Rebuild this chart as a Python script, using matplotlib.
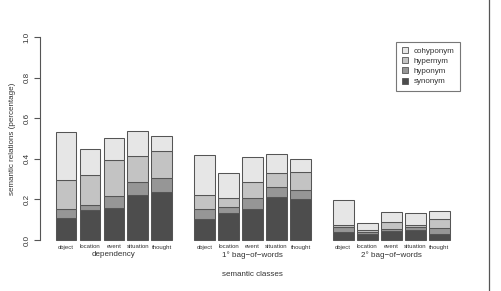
import matplotlib
matplotlib.use('Agg')
import matplotlib.pyplot as plt
from matplotlib.lines import Line2D
import numpy as np

plt.rcParams['font.family'] = ['Liberation Sans', 'DejaVu Sans']

groups = ['dependency', '1° bag\u2212of\u2212words', '2° bag\u2212of\u2212words']
classes = ['object', 'location', 'event', 'situation', 'thought']
relations = ['synonym', 'hyponym', 'hypernym', 'cohyponym']
colors = ['#4D4D4D', '#969696', '#C3C3C3', '#E6E6E6']

# cumulative tops for each relation (synonym, +hyponym, +hypernym, +cohyponym)
synonym_top = [0.107, 0.146, 0.156, 0.222, 0.235,
               0.104, 0.133, 0.151, 0.211, 0.203,
               0.041, 0.028, 0.046, 0.048, 0.031]
hyponym_top = [0.151, 0.171, 0.218, 0.287, 0.304,
               0.152, 0.161, 0.206, 0.263, 0.247,
               0.063, 0.039, 0.056, 0.064, 0.059]
hypernym_top = [0.298, 0.319, 0.393, 0.412, 0.440,
                0.220, 0.209, 0.288, 0.328, 0.335,
                0.076, 0.049, 0.087, 0.076, 0.102]
cohyponym_top = [0.531, 0.448, 0.504, 0.535, 0.512,
                 0.418, 0.330, 0.409, 0.422, 0.399,
                 0.196, 0.082, 0.136, 0.131, 0.145]

W, H = 501, 291
fig = plt.figure(figsize=(W / 100, H / 100), dpi=100)
fig.patch.set_facecolor('white')

# axes: y=0 at px 240, y=1 at px 37; x from px 40 to 489
ax = fig.add_axes([40 / W, (H - 240) / H, (489 - 40) / W, (240 - 37) / H])
px = 22.0  # pixels per bar width
ax.set_xlim(-26 / px, (489 - 66) / px)
ax.set_ylim(0, 1)

x = np.array([6.3 * g + 1.09 * i for g in range(3) for i in range(5)])
tops = [synonym_top, hyponym_top, hypernym_top, cohyponym_top]
bottom = np.zeros(len(x))
for rel, col, top in zip(relations, colors, tops):
    top = np.array(top)
    ax.bar(x, top - bottom, bottom=bottom, width=0.95, color=col,
           edgecolor='#555555', linewidth=0.75, clip_on=False)
    bottom = top

for s in ['top', 'right', 'bottom']:
    ax.spines[s].set_visible(False)
ax.spines['left'].set_color('#555555')
ax.spines['left'].set_linewidth(0.8)
ax.set_yticks([0, 0.2, 0.4, 0.6, 0.8, 1.0])
ax.set_yticklabels(['0.0', '0.2', '0.4', '0.6', '0.8', '1.0'],
                   rotation=90, va='center', fontsize=5.8, color='#333333')
ax.tick_params(axis='y', length=4, width=0.8, color='#555555', pad=3)
ax.set_xticks([])
ax.set_ylabel('semantic relations (percentage)', fontsize=5.8,
              color='#333333', labelpad=5)

# class labels under each bar
for xi, name in zip(x, classes * 3):
    ax.text(xi, -7 / 203, name, ha='center', va='center', fontsize=4.3,
            color='#333333', clip_on=False)
# group labels
for g, name in enumerate(groups):
    ax.text(6.3 * g + 1.09 * 2, -15 / 203, name, ha='center', va='center',
            fontsize=5.8, color='#333333', clip_on=False)

fig.text(252 / W, 1 - 275 / H, 'semantic classes', ha='center', va='center',
         fontsize=5.8, color='#333333')

handles = [Line2D([], [], marker='s', linestyle='none', markersize=4.4,
                  markerfacecolor=c, markeredgecolor='#555555',
                  markeredgewidth=0.6) for c in colors[::-1]]
leg = ax.legend(handles, relations[::-1], loc='upper left',
                bbox_to_anchor=(395.5 / W, 1 - 42.3 / H),
                bbox_transform=fig.transFigure, fontsize=5.8,
                frameon=True, fancybox=False, borderpad=0.65,
                labelspacing=0.3, handlelength=1.0, handletextpad=0.6,
                borderaxespad=0)
leg.get_frame().set_edgecolor('#555555')
leg.get_frame().set_linewidth(0.8)
for t in leg.get_texts():
    t.set_color('#333333')

fig.add_artist(Line2D([489 / W, 489 / W], [0, 1], transform=fig.transFigure,
                      color='#555555', linewidth=0.9))

fig.savefig('out.png', dpi=100)
